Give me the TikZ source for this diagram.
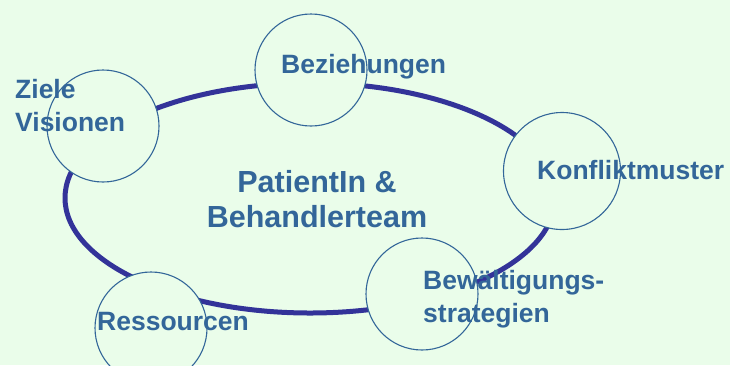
\documentclass[tikz,border=0pt]{standalone}
\usepackage{fontspec}
\setmainfont{Liberation Sans}
\usepackage{tikz}
\usepackage{xcolor}
\definecolor{bg_green}{HTML}{EAFDEA}
\definecolor{ring_blue}{HTML}{333399}
\definecolor{text_blue}{HTML}{336699}

\tikzset{
	bubble/.style={circle, draw=text_blue, line width=1.1pt, fill=bg_green, minimum size=112pt, inner sep=0pt},
	lbl/.style={text=text_blue, font=\bfseries\fontsize{26.5}{33}\selectfont, align=left, anchor=base west, inner sep=0pt},
}

\begin{document}
\begin{tikzpicture}[x=1pt, y=-1pt]
	\fill[bg_green] (0, 0) rectangle (730, 365);
	\useasboundingbox (0, 0) rectangle (730, 365);
	\draw[ring_blue, line width=5pt] (310, 198) ellipse [x radius=245, y radius=115];
	\node[bubble] (ziele) at (103, 126) {};
	\node[bubble] (bez) at (311, 70) {};
	\node[bubble, minimum size=117pt] (konf) at (562, 171) {};
	\node[bubble] (bew) at (422, 294) {};
	\node[bubble] (res) at (151, 328) {};
	% base = last line
	\node[lbl] (ziele_t) at (15, 131) {Ziele\\Visionen};
	\node[lbl] (bez_t) at (281, 73) {Beziehungen};
	\node[lbl] (konf_t) at (537, 179) {Konfliktmuster};
	\node[lbl] (bew_t) at (423, 322) {Bewältigungs-\\strategien};
	\node[lbl] (res_t) at (97, 330) {Ressourcen};
	\node[lbl, anchor=base, align=center, font=\bfseries\fontsize{30.5}{35}\selectfont] (team) at (317, 227) {PatientIn \&\\Behandlerteam};
\end{tikzpicture}
\end{document}
